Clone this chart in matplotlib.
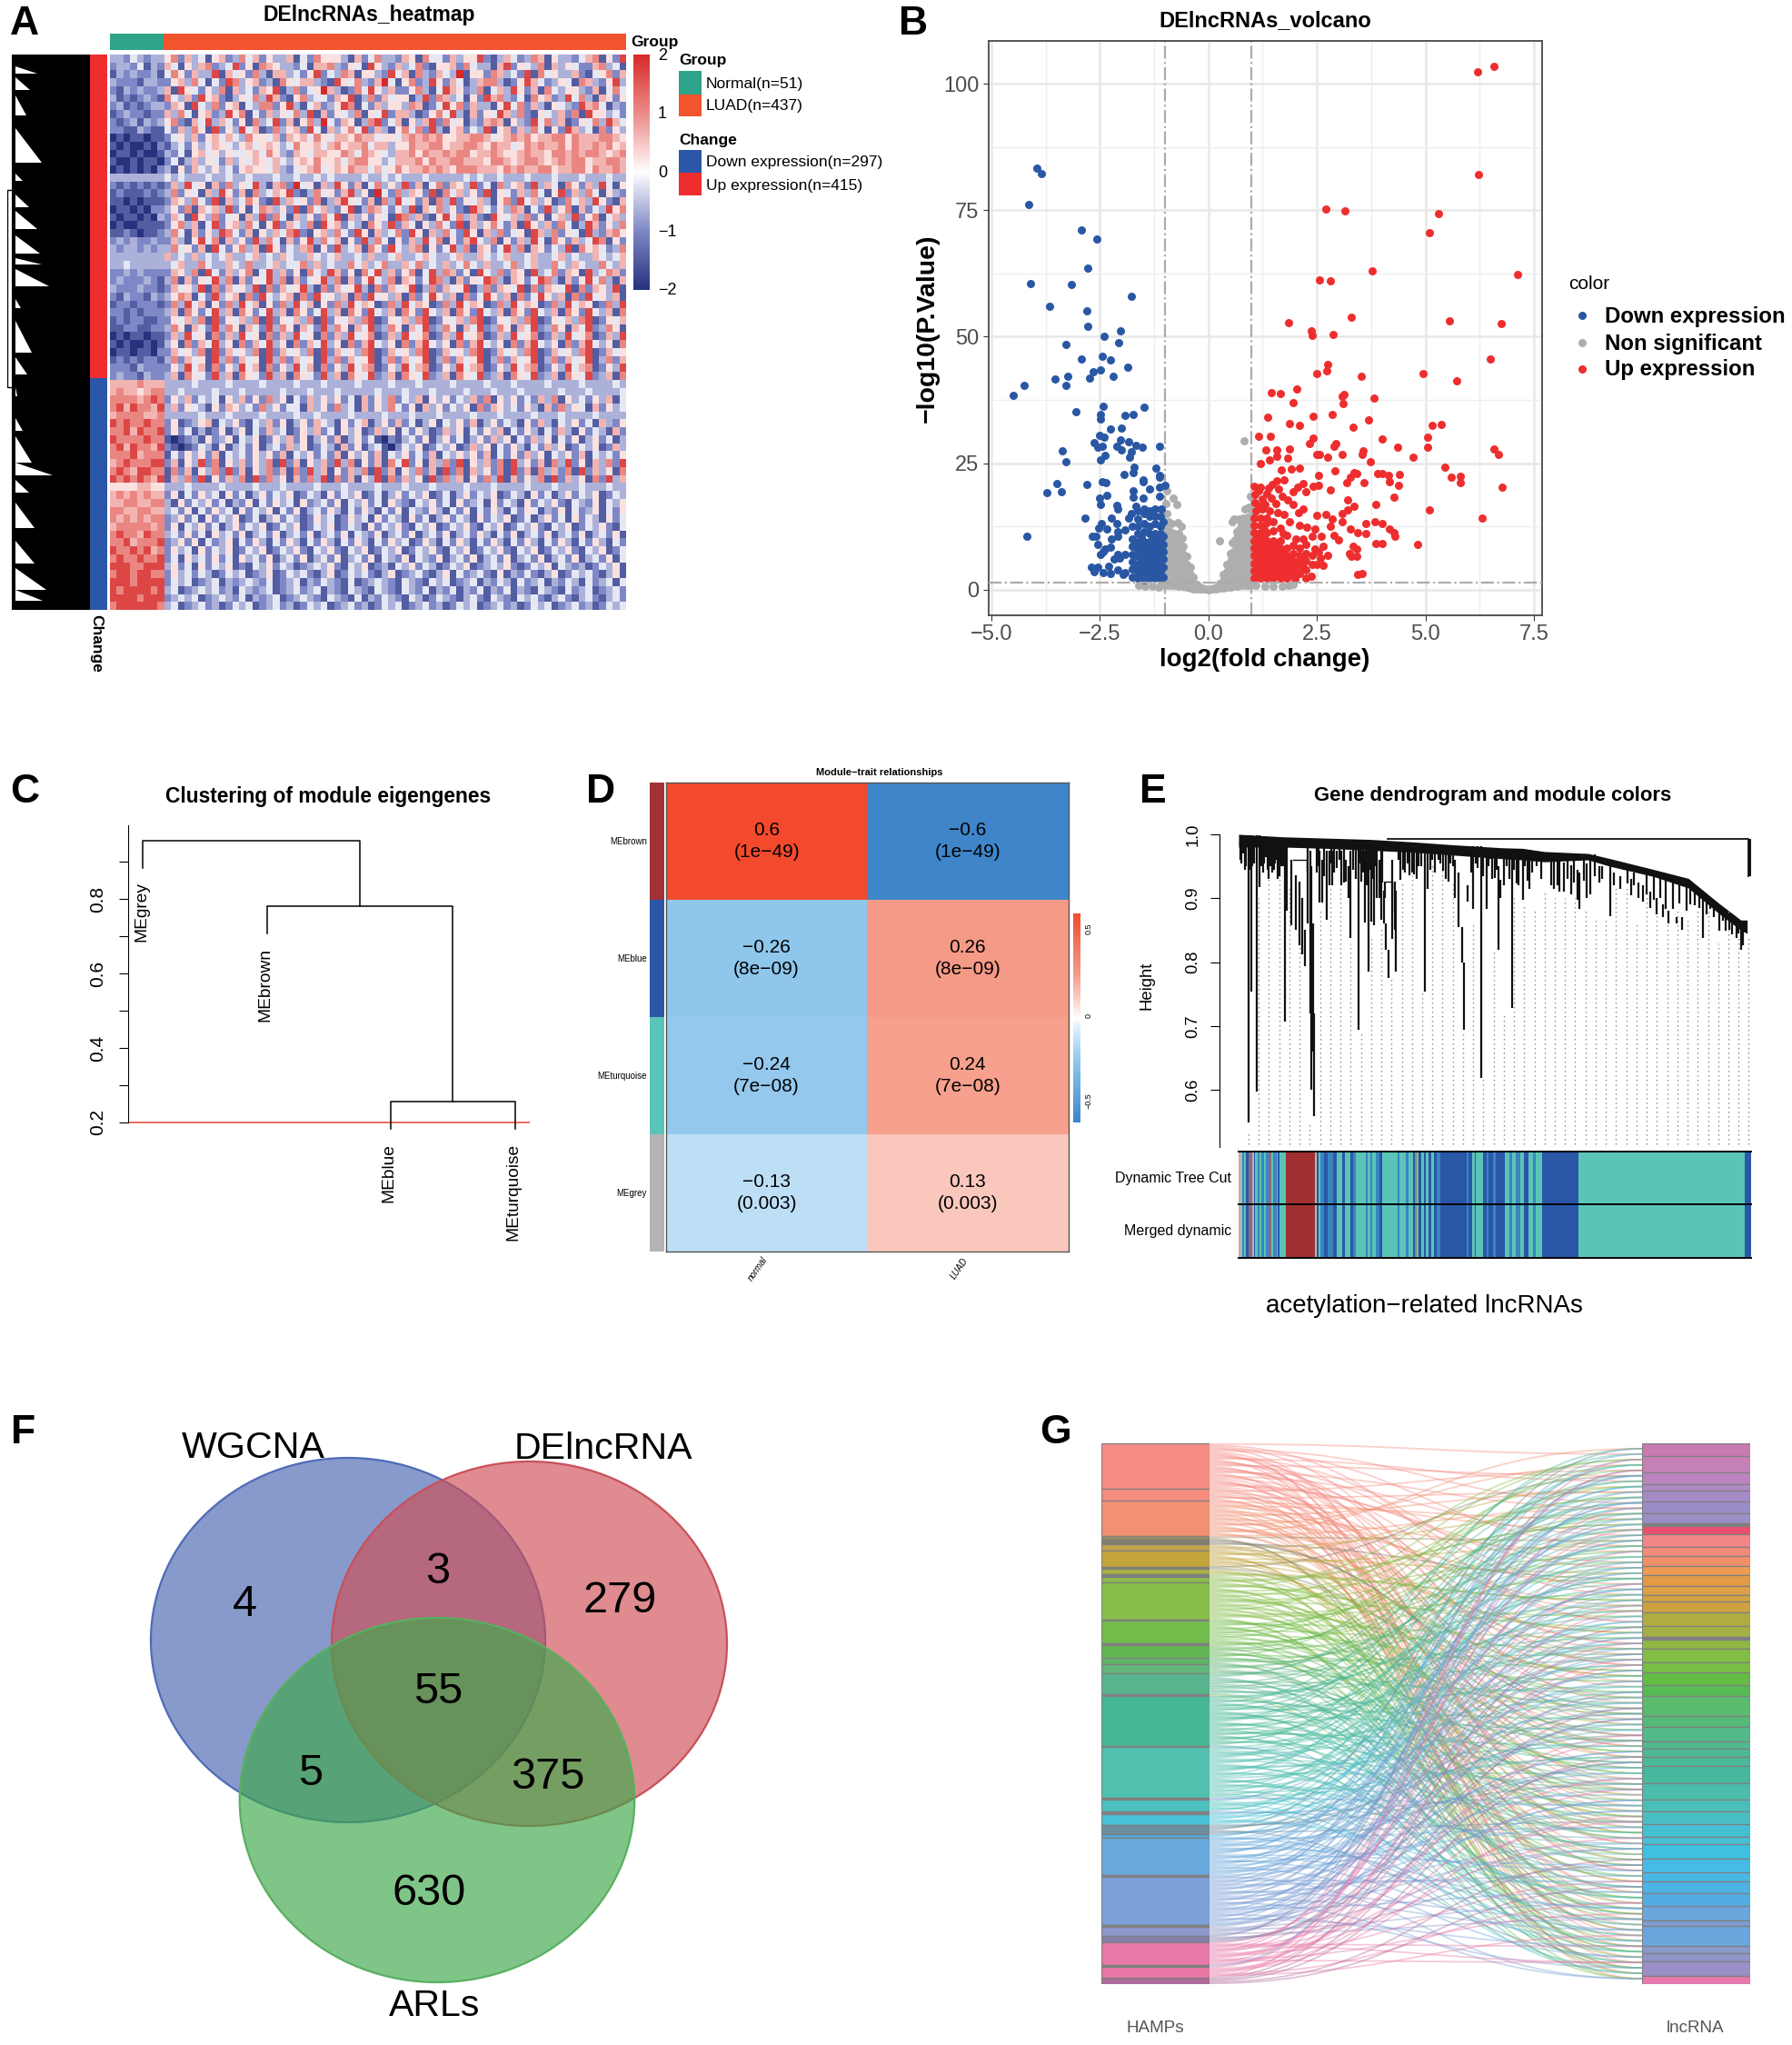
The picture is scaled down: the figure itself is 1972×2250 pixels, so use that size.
import numpy as np
import matplotlib
matplotlib.use("Agg")
import matplotlib.pyplot as plt
from matplotlib.colors import LinearSegmentedColormap
from matplotlib.patches import Ellipse, PathPatch
from matplotlib.path import Path

plt.rcParams['font.family'] = ['Liberation Sans', 'DejaVu Sans']

W, H = 1972, 2250

# ---- A: heatmap, estimate by eye, one digit = one entry of heat_levels
# the speckle is too fine to read cell by cell, so this keeps the blocks and the overall mix
heat_levels = [-2.0, -1.5, -1.0, -0.65, -0.2, 0.25, 0.65, 1.05, 1.7, 2.0]
heat_rows = [
    "3324323357263415623746253361427555316247332651744263558213642376153324671528",
    "2332413264153672348251765332416673254185326347215562743316825437163542267341",
    "1323223147526338164527316634258243761553284617326439155276342817453362145726",
    "3222133225637414287356231754663218547326941572385264136773125864235417632583",
    "2132322361854253716342658137245963127485362257314865237146385261743553261474",
    "3121232174362856213547386215734426581372645513827634152867324175623847316525",
    "2312123326518437256143772583146235871426355376124857263315847263154328674132",
    "1232212263741562385714263547381625437154826631257483162548637215436271855342",
    "2123132357216483642517348261573942651378246153682745132676153284736125473864",
    "2211321142637518253846127356284163574826315747283156243815626374152863417253",
    "0101101124536256464375546265647546657664554676767556677645676756677576667765",
    "1010010213425346543564565347556467566746635576677566776576645767667576676756",
    "0110100132415645354456475326546655764765436675766767756676556766577676776567",
    "1001011024136354263546546435657556467755346667576677666577656776567677566776",
    "0101010231526435342565546324567456576646457566767657776665767667756677576676",
    "3333333343433343343343334334334343333433434333433333434334333433343334333433",
    "2121212126384516273548316729451638526147353826147265382417356283641752638415",
    "1211121237254163852617346582137452683519427365281746352815426374158263741532",
    "1101011126537428163475218364527136854261738452617382546315728463512746385216",
    "0110102235271646382514763528174632581376425381647352186425376142835716243857",
    "1011010326418537245163827416352748163525418736215847362185463725146382571463",
    "0100111125736148256374158264371856243175382641537428163574261853627413862537",
    "1121011237416253874261536478215637428516347285163742851637245186372541832675",
    "2323223226315847163528374162583746152837415263847152684371526384175263487152",
    "3233232337452618425736185243671528346175284367152483716524837165243817564237",
    "3333333363436343463346343643364346334363346334643346336434633463346343364346",
    "3343333334633743364373346344736343374634733647343634743633473463374364337436",
    "2232322226537184263571483625174386251748362571483762518437265183472651834762",
    "2322232137162548371625483716245837162584371652487316254873165248731625847316",
    "3222322126453817264538172645831726458317264581372645813726548172654817265381",
    "2132213235761428356172843561728453617284536172485361724853617248536172845361",
    "1221222127384615273846152738461527384651273846512738465127384651273846512738",
    "2212122236175248361752483617524836175284361752843617528436175284361752843617",
    "1212211225463718254637182546371825463781254637812546378125463781254637812546",
    "1122112237516428375164283751642837516482375164823751648237516482375164823751",
    "0101101126384517263845172638451726384571263845712638457126384571263845712638",
    "1010010135172648351726483517264835172684351726843517268435172684351726843517",
    "0110110226453718264537182645371826453781264537812645378126453781264537812645",
    "1212122137264518372645183726451837264581372645813726458137264581372645813726",
    "2221322225384617253846172538461725384671253846712538467125384671253846712538",
    "2322132236175428361754283617542836175482361754823617548236175482361754823617",
    "6666766633334333343333433334333433334333343334333343333433343333433334333343",
    "6766567733433334333433333433343334333334333433343333433343334333334333433334",
    "7777678725362434153625273514263535241625372436153524362715352426371534253614",
    "7868776836254315265342735244163527341625374251635243517265342531627354162534",
    "6777766733333433343333433334334333343333433343334333343334333343334333343333",
    "8787787725123561435214362513526431524613526241351435261352431526314352416325",
    "7786877825241312513514263412536241535126351425312635142536142531426315243162",
    "8777787710123152351435125362513526135241021342513524135263514263514251352413",
    "7868776821012431513425134263512431625134102435124351263514253142635124351263",
    "7778677714253526143425352614352426153526143524261435352614252635143526143425",
    "6787778826153827153625371826153628371526174825163728153627183526173825163728",
    "7876887717261537282615372617283615263718261537261827163527182617362718263517",
    "8787876816372815263718273516273817261538172635182736152738162537182635172836",
    "5555665533343333433334333433334333433334333433343333433343333433343334333433",
    "6767676625142534152413524351243152435124135243512413524351243152413524351243",
    "6677667731524352413251425341523425143524153214352415234152431524352143251435",
    "7766776634251425341524351425134253142531425143253142514253142541325142351425",
    "7676767723524152435124135243125341253415243152413524315243512413524152431524",
    "6777776725143524135243512435124351243152435214351243521435124352143512435214",
    "7877687734252415342513425134251342514325134251342513425314251342513425134251",
    "7786777823525142351425314253142531425314253412531425314253142531425314253142",
    "8778786725341524351243512435214352143512435124352143512435214351243521435124",
    "7877877824153425241534251342513425134251432514325134251342513425134251342514",
    "8887788835241524351214352431234352143512314352431243512343521243514323124351",
    "7887887725342431243412351243421351243421351234213514234215132421351243421351",
    "8887888824341234132343241234132432141234321432143412341324314234132431423414",
    "8788887834123434231432341234234132143214321432413241324132413214321423412342",
    "8888788823434123432413234123432143214132432143124321342143214342134213421342",
    "7888888734123423124341234231243412342312434123423124341234231243412342312434",
]
heat_cols = 76
n_normal = 51
n_luad = 437
n_down = 297
n_up = 415
heat_ticks = [2, 1, 0, -1, -2]

# dendrogram of panel A, white gaps: first row, last row, reach towards the leaves
gap_top = [15, 29, 52, 94, 153, 179, 201, 232, 261, 275, 314, 342, 388, 427, 466, 489, 523, 545, 574, 624, 658, 686]
gap_bot = [24, 46, 78, 139, 162, 196, 224, 255, 269, 297, 325, 382, 410, 438, 483, 523, 540, 562, 607, 653, 686, 700]
gap_len = [.32, .22, .17, .37, .13, .21, .32, .35, .37, .47, .10, .24, .19, .06, .13, .24, .52, .21, .28, .28, .43, .39]

# ---- B: volcano, log2FC and -log10(p)
down_pts = [
    (-3.95,83.3),(-3.85,82.2),(-4.14,76.1),(-2.92,71.1),(-2.57,69.4),(-2.77,63.6),(-4.10,60.5),(-3.16,60.3),
    (-1.78,58.0),(-3.65,56.0),(-2.79,55.2),(-2.78,52.0),(-2.03,51.2),(-2.40,50.1),(-2.07,48.9),(-3.29,48.4),
    (-2.45,46.1),(-2.92,45.5),(-2.25,45.4),(-1.86,43.9),(-2.49,43.5),(-2.66,43.0),(-3.24,42.2),(-2.19,42.2),
    (-2.74,41.9),(-3.53,41.6),(-3.29,40.4),(-4.24,40.3),(-4.49,38.4),(-2.42,36.3),(-1.48,36.1),(-3.04,35.2),
    (-2.49,34.6),(-1.92,34.4),(-1.74,34.6),(-2.48,33.7),(-2.0,31.9),(-2.25,31.8),(-2.50,30.4),(-2.41,30.1),
    (-2.64,29.1),(-2.55,28.1),(-2.44,28.3),(-2.11,28.3),(-2.01,27.6),(-2.03,29.6),(-1.84,29.2),(-1.66,28.5),
    (-1.52,28.1),(-1.13,28.3),(-3.37,27.4),(-3.29,25.3),(-2.48,25.6),(-2.39,26.5),(-1.81,26.1),(-1.78,27.3),
    (-1.95,22.7),(-1.74,23.1),(-1.70,24.2),(-1.21,24.1),(-1.12,22.6),(-1.12,22.2),(-1.5,21.6),(-1.5,21.3),
    (-2.44,21.3),(-2.36,21.2),(-2.79,20.8),(-3.49,21.0),(-3.39,19.3),(-3.72,19.2),(-1.74,19.6),(-1.36,19.9),
    (-1.13,20.2),(-1.0,20.6),(-2.50,18.0),(-2.34,18.7),(-2.48,16.8),(-1.74,18.2),(-1.5,18.0),(-1.13,18.4),
    (-2.11,16.6),(-2.08,15.9),(-2.85,14.1),(-2.46,13.1),(-2.23,14.1),(-2.10,13.1),(-2.53,12.1),(-2.33,12.0),
    (-1.91,11.8),(-2.67,10.6),(-2.60,10.6),(-2.08,11.4),(-2.23,10.0),(-2.08,10.5),(-2.55,8.9),(-2.25,8.4),
    (-2.39,8.0),(-2.48,6.9),(-2.43,7.5),(-2.08,6.9),(-2.18,6.0),(-1.91,6.9),(-2.04,6.3),(-2.69,4.5),(-2.55,4.4),
    (-2.64,3.6),(-2.30,4.6),(-2.43,3.3),(-2.25,3.2),(-2.08,3.8),(-1.93,3.4),(-1.97,3.0),(-1.84,14.1),(-1.77,15.0),
    (-1.66,16.5),(-4.19,10.5),
    (-1.75,2.5),(-1.75,4.0),(-1.75,5.5),(-1.75,7.0),(-1.75,8.5),(-1.75,10.0),(-1.75,12.5),
    (-1.62,2.2),(-1.62,3.5),(-1.62,5.0),(-1.62,6.5),(-1.62,8.0),(-1.62,9.5),(-1.62,11.0),(-1.62,12.5),(-1.62,14.0),(-1.62,15.5),
    (-1.48,2.0),(-1.48,3.5),(-1.48,5.0),(-1.48,6.5),(-1.48,8.0),(-1.48,9.5),(-1.48,11.5),(-1.48,13.0),(-1.48,15.0),(-1.48,16.0),
    (-1.35,2.2),(-1.35,3.5),(-1.35,5.0),(-1.35,6.5),(-1.35,8.0),(-1.35,9.5),(-1.35,11.0),(-1.35,12.5),(-1.35,14.5),(-1.35,15.5),
    (-1.22,2.2),(-1.22,3.5),(-1.22,5.0),(-1.22,6.5),(-1.22,8.0),(-1.22,9.5),(-1.22,11.0),(-1.22,13.0),(-1.22,14.5),(-1.22,16.0),
    (-1.10,2.2),(-1.10,3.5),(-1.10,5.0),(-1.10,6.5),(-1.10,8.0),(-1.10,9.5),(-1.10,11.0),(-1.10,12.5),(-1.10,14.5),(-1.08,16.0),
    (-1.04,2.5),(-1.04,4.5),(-1.04,6.0),(-1.04,7.5),(-1.04,9.0),(-1.04,10.5),(-1.04,13.5),
    (-1.55,2.9),(-1.55,4.3),(-1.55,5.8),(-1.55,7.3),(-1.55,8.8),(-1.55,10.3),(-1.42,2.9),(-1.42,4.3),(-1.42,5.8),(-1.42,7.3),(-1.42,8.8),
    (-1.28,2.9),(-1.28,4.3),(-1.28,5.8),(-1.28,7.3),(-1.28,8.8),(-1.28,10.2),(-1.16,2.9),(-1.16,4.3),(-1.16,5.8),(-1.16,7.3),(-1.16,8.8),(-1.16,10.2),
]
up_pts = [
    (6.57,103.4),(6.21,102.4),(6.22,82.1),(2.71,75.2),(3.14,74.8),(5.31,74.3),(5.10,70.6),(3.77,63.1),(7.13,62.3),
    (2.56,61.2),(2.81,61.1),(3.29,53.8),(5.55,53.1),(1.84,52.7),(6.75,52.6),(2.37,51.2),(2.40,50.3),(2.87,50.4),
    (6.50,45.6),(2.74,44.5),(2.73,43.3),(2.49,42.7),(4.94,42.7),(3.53,42.2),(5.72,41.3),(2.03,39.6),(1.45,38.9),
    (1.65,38.8),(3.12,38.6),(3.08,38.2),(3.82,37.9),(3.10,36.8),(1.96,36.9),(2.86,34.7),(2.42,34.2),(1.36,34.0),
    (3.69,33.6),(1.88,32.8),(2.09,32.4),(3.33,32.1),(5.16,32.4),(5.36,32.6),(5.06,30.2),(1.15,30.3),(1.42,30.3),
    (2.42,29.9),(4.0,29.8),(2.32,28.8),(2.94,28.8),(2.89,28.4),(5.05,28.1),(4.36,28.1),(6.57,27.8),(6.68,26.7),
    (1.33,27.6),(1.58,27.7),(1.86,27.8),(2.49,26.8),(2.57,26.8),(3.08,26.8),(3.57,27.4),(3.54,26.7),(2.75,26.2),
    (4.72,26.1),(3.73,25.2),(1.21,24.9),(1.41,25.6),(1.58,26.4),(1.82,26.0),(2.09,24.0),(1.91,23.9),(1.69,23.7),
    (5.44,24.2),(2.92,23.5),(3.35,23.1),(3.41,22.9),(3.91,22.9),(4.0,22.9),(4.41,22.7),(4.16,22.6),(2.53,22.5),
    (3.28,22.2),(5.6,22.2),(5.8,22.4),(5.81,21.1),(4.18,21.3),(3.19,21.1),(3.58,21.1),(4.39,20.6),(6.76,20.3),
    (4.27,18.2),(3.85,16.9),(5.1,15.7),(6.3,14.2),(4.0,13.0),(3.83,13.4),(4.18,12.0),(4.27,11.2),(4.29,10.6),
    (4.82,8.9),(4.0,9.1),(3.45,3.0),(3.54,3.2),
    (1.05,20.5),(1.2,20.2),(1.38,20.0),(1.48,20.8),(1.58,21.5),(1.74,21.7),(1.62,19.8),(2.18,21.0),(2.42,20.5),
    (2.53,20.6),(2.05,20.2),(2.25,19.4),(2.82,19.7),(1.95,19.3),(1.08,18.8),(1.25,17.9),(1.45,18.0),(1.7,18.4),
    (1.82,17.7),(1.95,16.8),(2.18,15.9),(2.08,15.2),(3.2,17.8),(3.08,15.1),(3.2,15.7),(3.35,16.4),(3.08,13.5),
    (3.62,13.0),(2.7,14.9),(2.85,13.9),(2.5,14.7),(1.3,16.8),(1.25,15.9),(1.4,15.5),(1.6,15.2),(1.75,14.8),
    (1.88,13.5),(2.09,12.7),(2.27,12.4),(2.45,11.9),(2.82,12.6),(3.28,11.9),(3.45,11.3),(3.62,11.0),(3.85,9.1),
    (2.18,10.0),(2.4,10.5),(2.6,10.5),(2.9,10.8),(3.0,9.9),(3.34,8.5),(3.42,8.1),(3.25,7.1),(3.3,6.5),(3.42,6.5),
    (2.45,8.0),(2.65,8.5),(2.74,6.7),(2.58,6.3),(2.5,5.0),(2.65,4.8),(2.2,4.0),(2.38,2.6),(2.25,2.3),(2.0,2.1),(1.8,2.3),
    (1.05,2.2),(1.05,3.7),(1.05,5.2),(1.05,6.7),(1.05,8.2),(1.05,9.7),(1.05,11.2),(1.05,12.7),(1.05,14.2),
    (1.2,2.2),(1.2,3.7),(1.2,5.2),(1.2,6.7),(1.2,8.2),(1.2,9.7),(1.2,11.2),(1.2,12.7),(1.2,14.2),
    (1.35,2.2),(1.35,3.7),(1.35,5.2),(1.35,6.7),(1.35,8.2),(1.35,9.7),(1.35,11.2),(1.35,13.2),(1.35,14.2),
    (1.5,2.2),(1.5,3.7),(1.5,5.2),(1.5,6.7),(1.5,8.2),(1.5,9.7),(1.5,11.7),(1.5,13.5),
    (1.65,2.2),(1.65,3.7),(1.65,5.2),(1.65,6.7),(1.65,8.2),(1.65,9.7),(1.65,12.2),
    (1.8,3.7),(1.8,5.2),(1.8,6.7),(1.8,8.2),(1.8,10.7),(1.95,2.7),(1.95,4.2),(1.95,5.7),(1.95,7.2),(1.95,8.7),
    (2.1,3.2),(2.1,5.2),(2.1,6.7),(2.1,8.2),(2.25,3.9),(2.25,5.7),(2.25,7.2),(2.25,8.9),(2.4,4.9),(2.4,6.7),(2.55,7.4),
    (1.12,3.0),(1.12,4.5),(1.12,6.0),(1.12,7.5),(1.12,9.0),(1.12,10.5),(1.28,3.0),(1.28,4.5),(1.28,6.0),(1.28,7.5),(1.28,9.0),(1.28,10.5),(1.28,12.0),
    (1.42,3.0),(1.42,4.5),(1.42,6.0),(1.42,7.5),(1.42,9.0),(1.58,3.0),(1.58,4.5),(1.58,6.0),(1.58,7.5),(1.58,9.0),(1.72,3.0),(1.72,4.5),(1.72,6.0),(1.72,7.5),
    (1.72,11.0),(1.88,3.0),(1.88,4.5),(1.88,6.0),(2.02,3.9),(2.02,5.5),(2.02,10.0),(2.18,4.5),(2.18,6.2),
    (1.1,15.6),(1.08,17.1),(1.18,16.5),(1.55,17.0),(1.15,19.6),(1.35,19.0),
]
ns_pts = [
    (-1.6,0.9),(-1.45,0.6),(-1.3,0.6),(-1.15,0.5),(-0.95,19.5),(-0.82,18.0),(-0.72,16.8),(-0.98,17.0),(-0.96,15.0),(-0.92,13.5),
    (-0.85,13.0),(-0.7,13.2),(-0.62,12.5),(-0.97,12.0),(-0.88,11.5),(-0.78,11.0),(-0.68,11.0),(-0.6,10.2),
    (-0.97,10.0),(-0.88,9.5),(-0.78,9.5),(-0.68,9.0),(-0.58,8.5),(-0.97,8.0),(-0.88,7.8),(-0.78,7.8),(-0.68,7.5),(-0.58,7.0),(-0.5,6.5),
    (-0.97,6.3),(-0.88,6.0),(-0.78,6.0),(-0.68,5.8),(-0.58,5.5),(-0.5,5.0),(-0.42,4.5),
    (-0.97,4.5),(-0.88,4.2),(-0.78,4.2),(-0.68,4.0),(-0.58,3.8),(-0.5,3.5),(-0.42,3.0),(-0.34,2.5),
    (-0.97,2.7),(-0.88,2.5),(-0.78,2.5),(-0.68,2.4),(-0.58,2.2),(-0.5,2.0),(-0.42,1.6),(-0.34,1.2),(-0.26,1.0),
    (-1.1,0.9),(-0.97,0.9),(-0.88,0.8),(-0.78,0.8),(-0.68,0.7),(-0.58,0.6),(-0.5,0.4),(-0.42,0.3),(-0.34,0.2),(-0.26,0.1),(-0.18,0.2),(-0.1,0.1),(0.0,0.0),
    (0.1,0.1),(0.18,0.2),(0.26,0.3),(0.34,0.3),(0.42,0.5),(0.5,0.5),(0.58,0.6),(0.68,0.7),(0.78,0.8),(0.88,0.8),(0.97,0.9),(1.1,0.8),(1.3,0.7),(1.5,0.7),(1.7,0.7),(1.85,0.8),(1.95,1.0),
    (0.26,1.2),(0.34,1.8),(0.42,1.8),(0.5,2.0),(0.58,2.2),(0.68,2.4),(0.78,2.5),(0.88,2.6),(0.97,2.7),
    (0.34,3.0),(0.42,3.5),(0.5,3.8),(0.58,4.0),(0.68,4.2),(0.78,4.4),(0.88,4.5),(0.97,4.5),
    (0.42,5.0),(0.5,5.5),(0.58,5.7),(0.68,6.0),(0.78,6.2),(0.88,6.3),(0.97,6.5),(0.5,7.2),(0.58,7.5),(0.68,8.0),(0.78,8.2),(0.88,8.3),(0.97,8.5),
    (0.25,9.7),(0.55,9.2),(0.62,9.8),(0.7,10.0),(0.78,10.2),(0.88,10.3),(0.97,10.5),(0.65,11.5),(0.72,12.0),(0.8,12.2),(0.88,12.3),(0.97,12.5),
    (0.6,14.0),(0.55,13.4),(0.7,14.0),(0.8,14.2),(0.9,14.4),(0.97,14.5),(0.85,16.0),(0.92,16.3),(0.98,16.0),(0.83,29.5),(0.98,18.5),
    (-0.93,1.6),(-0.83,1.6),(-0.73,1.5),(-0.63,1.4),(-0.54,1.2),(-0.46,1.0),(-0.38,0.8),(-0.3,0.6),(-0.22,0.6),(-0.14,0.3),(-0.05,0.1),
    (-0.93,3.5),(-0.83,3.4),(-0.73,3.2),(-0.63,3.0),(-0.54,2.8),(-0.46,2.5),(-0.93,5.3),(-0.83,5.1),(-0.73,4.9),(-0.63,4.7),(-0.54,4.3),(-0.46,4.0),
    (-0.93,7.1),(-0.83,6.9),(-0.73,6.6),(-0.63,6.3),(-0.93,8.8),(-0.83,8.6),(-0.73,8.3),(-0.63,7.8),(-0.93,10.7),(-0.83,10.2),(-0.73,10.0),
    (0.05,0.1),(0.14,0.3),(0.22,0.6),(0.3,0.8),(0.38,1.0),(0.46,1.2),(0.54,1.4),(0.63,1.5),(0.73,1.6),(0.83,1.7),(0.93,1.8),
    (0.38,2.4),(0.46,2.8),(0.54,3.0),(0.63,3.2),(0.73,3.4),(0.83,3.5),(0.93,3.6),(0.46,4.4),(0.54,4.8),(0.63,5.0),(0.73,5.2),(0.83,5.4),(0.93,5.5),
    (0.54,6.5),(0.63,6.8),(0.73,7.0),(0.83,7.3),(0.93,7.4),(0.63,8.8),(0.73,9.2),(0.83,9.3),(0.93,9.4),(0.68,10.8),(0.83,11.2),(0.93,11.4),(0.75,13.0),(0.85,13.2),(0.93,13.4),
]
x_ticks_b = [-5.0, -2.5, 0.0, 2.5, 5.0, 7.5]
y_ticks_b = [0, 25, 50, 75, 100]
fc_cut = 1
p_cut = 1.3

# ---- C: module eigengene tree
me_leaves = ["MEgrey", "MEbrown", "MEblue", "MEturquoise"]
me_merge_brown = 0.7815
me_merge_blue = 0.256
me_merge_top = 0.956
me_leaf_h = [0.883, 0.709, 0.184, 0.184]
me_cut = 0.2

# ---- D: module-trait table
me_rows = ["MEbrown", "MEblue", "MEturquoise", "MEgrey"]
me_row_colors = ["#A03238", "#2A57A8", "#5BC4B8", "#B4B4B6"]
traits = ["normal", "LUAD"]
cors = [[0.6, -0.6], [-0.26, 0.26], [-0.24, 0.24], [-0.13, 0.13]]
pvals = [["1e−49", "1e−49"], ["8e−09", "8e−09"], ["7e−08", "7e−08"], ["0.003", "0.003"]]

# ---- E: gene tree. leaf position, branch top, branch bottom
ribbon_x = [0, 147, 291, 435, 578, 694, 866, 938, 1010, 1154, 1226, 1370, 1485, 1586, 1658, 1679]
ribbon_top = [1.0, .996, .994, .992, .988, .984, .979, .978, .973, .970, .962, .945, .931, .892, .866, .866]
ribbon_low = [.98, .98, .978, .975, .972, .968, .962, .96, .957, .96, .95, .934, .916, .876, .85, .845]
drop_x = [33, 43, 60, 68, 152, 227, 237, 241, 245, 249, 160, 175, 190, 200, 210, 218,
          268, 275, 292, 300, 310, 325, 340, 355, 363, 370, 395, 405, 418, 428, 438, 448, 457, 470,
          465, 480, 487, 495, 482, 508, 516, 520, 535, 550, 565, 580, 595, 615, 625, 640, 660, 675, 693,
          700, 715, 725, 737, 745, 755, 775, 790, 800, 818, 830, 845, 857, 865, 902, 917, 938, 953,
          1032, 1053, 1075, 1097, 1118, 1125, 1140, 1161, 1176, 1226, 1284, 1305, 1348, 1370, 1391, 1410, 1435,
          1456, 1478, 1507, 1533, 1557, 1586, 1607, 1629, 1643, 1658, 1665, 1688, 10, 20, 45, 75, 85, 95, 105, 112, 120, 130, 140,
          5, 15, 25, 38, 52, 80, 90, 100, 116, 125, 135, 146, 258, 264, 283, 305, 316, 332, 347, 378, 386, 401, 412, 424, 433, 443, 453, 475,
          528, 542, 557, 572, 587, 602, 632, 648, 667, 684, 708, 768, 782, 808, 824, 838, 852, 875, 885, 895, 910, 925, 945, 960, 970,
          985, 1000, 1040, 1060, 1085, 1108, 1150, 1190, 1200, 1240, 1260, 1295, 1320, 1335, 1360, 1380, 1400, 1420, 1445, 1465, 1490, 1520, 1545, 1570, 1600, 1620, 1650]
drop_top = [.998, .998, .998, .998, .993, .985, .974, .95, .86, .72, .988, .96, .936, .926, .90, .85,
            .974, .96, .974, .974, .974, .974, .974, .96, .95, .974, .988, .974, .974, .974, .974, .974, .974, .988,
            .96, .912, .86, .82, .926, .96, .926, .912, .983, .983, .983, .983, .983, .983, .983, .979, .979, .979, .979,
            .979, .96, .94, .855, .80, .92, .981, .981, .981, .979, .979, .976, .95, .929, .976, .976, .973, .973,
            .962, .962, .956, .951, .945, .940, .968, .968, .968, .951, .945, .940, .940, .934, .931, .934, .928,
            .928, .923, .911, .906, .894, .889, .877, .872, .866, .860, .860, .993, .995, .995, .995, .99, .99, .99, .99, .99, .99, .99, .99,
            .99, .99, .99, .99, .99, .99, .99, .99, .99, .99, .99, .99, .985, .985, .985, .985, .985, .985, .985, .985, .985, .985, .985, .985, .985, .985, .985, .985,
            .98, .98, .98, .98, .98, .98, .98, .98, .98, .98, .975, .975, .975, .975, .975, .975, .975, .97, .97, .97, .97, .97, .97, .97, .97,
            .965, .965, .965, .965, .965, .965, .955, .95, .95, .94, .935, .93, .925, .92, .91, .90, .89, .88, .87, .87, .915, .905, .90, .895, .885, .875, .865]
drop_bot = [.55, .754, .598, .917, .707, .86, .72, .60, .66, .56, .88, .858, .85, .826, .812, .794,
            .893, .893, .867, .921, .921, .948, .921, .926, .90, .838, .694, .926, .862, .786, .864, .858, .90, .867,
            .90, .86, .82, .775, .90, .836, .85, .786, .929, .94, .936, .938, .95, .754, .914, .96, .96, .943, .926,
            .955, .90, .855, .80, .694, .895, .883, .948, .619, .883, .962, .931, .819, .90, .729, .923, .897, .928,
            .920, .920, .911, .906, .897, .883, .928, .906, .934, .872, .923, .920, .906, .897, .900, .883, .883,
            .892, .880, .889, .838, .883, .849, .849, .843, .838, .820, .827, .935, .955, .945, .95, .95, .955, .945, .95, .94, .955, .93, .95,
            .96, .97, .95, .945, .955, .94, .965, .93, .945, .96, .935, .95, .94, .95, .935, .955, .94, .96, .925, .945, .93, .955, .94, .92, .945, .93, .95, .925,
            .96, .945, .955, .94, .93, .95, .945, .94, .955, .93, .95, .94, .955, .935, .95, .93, .945, .92, .95, .93, .945, .92, .95, .915, .94,
            .95, .93, .915, .91, .93, .925, .90, .925, .93, .92, .915, .905, .90, .895, .885, .875, .87, .86, .86, .85, .89, .885, .875, .87, .865, .85, .845]
guide_tops = [.536, .90, .96, .96, .917, .83, .55, .883, .92, .92, .83, .69, .84, .855, .774, .926, .936, .754,
              .955, .95, .926, .693, .862, .617, .819, .72, .90, .89, .88, .91, .90, .90, .90, .88, .87, .87, .92,
              .92, .86, .92, .90, .88, .88, .87, .88, .88, .83, .88, .84, .84, .82]
h_ticks = [0.6, 0.7, 0.8, 0.9, 1.0]
G_, T_, B_, M_, R_, V_, O_ = "#B5B5B5", "#5BC4B8", "#2A57A8", "#3A85BF", "#A03030", "#8C6A80", "#8C8C70"
module_widths = [13, 6, 6, 8, 12, 6, 4, 8, 7, 5, 10, 5, 9, 10, 6, 10, 5, 5, 20, 97, 5, 6, 7, 10, 13, 17, 13, 18, 9, 17, 10, 10,
                 33, 5, 8, 7, 10, 13, 8, 52, 7, 20, 10, 13, 6, 6, 8, 7, 10, 5, 10, 8, 10, 10, 12, 3, 82, 5, 13, 9, 4, 22, 12, 8, 14, 8, 20,
                 12, 14, 10, 12, 14, 12, 14, 17, 7, 22, 118, 547, 22]
module_colors = [G_, M_, T_, B_, V_, G_, B_, T_, M_, T_, M_, T_, M_, V_, T_, M_, T_, B_, T_, R_, G_, B_, T_, M_, B_, M_, B_, T_, B_, T_, B_, M_,
                 T_, M_, T_, M_, T_, M_, B_, T_, M_, T_, M_, T_, B_, O_, T_, B_, T_, B_, T_, B_, T_, B_, M_, B_, B_, M_, B_, T_, B_, T_, B_, M_, B_, M_, B_,
                 B_, T_, M_, T_, M_, T_, B_, T_, M_, T_, B_, T_, B_]

# ---- F: Venn counts
venn_sets = ["WGCNA", "DElncRNA", "ARLs"]
venn_counts = [4, 3, 279, 55, 5, 375, 630]

# ---- G: alluvial strata sizes and colours, top to bottom
hamp_sizes = [114, 30, 88, 9, 11, 17, 39, 6, 14, 6, 14, 92, 4, 56, 4, 32, 16, 24, 52, 4, 124, 4, 126, 5, 30, 5, 28, 22, 10, 94, 4, 120, 4, 23, 17, 56, 4, 28, 16]
hamp_colors = ["#F68B84", "#F58C7E", "#F29171", "#9C8A5F", "#7F7F6F", "#BFA24C", "#C4A53C", "#84806A", "#A7B043", "#808080", "#8DBB4C",
               "#86BE49", "#808080", "#72BD4B", "#808080", "#62B553", "#5EB368", "#62B57A", "#58B58E", "#808080", "#45B795", "#808080", "#52C0AF",
               "#808080", "#4DC2C0", "#808080", "#47C1D6", "#6C8E9E", "#52A8DE", "#6AA9DC", "#808080", "#7B9FD6", "#808080", "#8F98CC", "#857FA8",
               "#E878A8", "#808080", "#EA76A5", "#B06A9A"]
rna_sizes = [31, 40, 27, 15, 28, 27, 24, 8, 18, 32, 22, 24, 20, 27, 23, 15, 25, 34, 25, 8, 22, 32, 24, 30, 26, 49, 27, 35, 17, 20, 22, 40, 40, 28, 32, 30, 17, 35, 34, 21, 29, 31, 34, 12, 50, 17, 20, 34, 20]
rna_colors = ["#C87BB0", "#C580B5", "#BB84BE", "#B08AC4", "#A48BC6", "#9A8DC6", "#9B8FC4", "#7F7F7F", "#E8506E", "#F48688", "#F48A7A", "#F2906A",
              "#EE9A52", "#E29A45", "#DDA045", "#D6A23F", "#CDA23F", "#B0AC3F", "#A4B044", "#808080", "#90B845", "#82BD45", "#78BE45", "#64BC45",
              "#58BA55", "#5ABB6E", "#55BA78", "#52B988", "#50B98E", "#4CB994", "#4AB899", "#47B89E", "#4CBDAC", "#4ABFB8", "#48BEC3", "#44C0D2", "#46C0D6",
              "#3EC0E3", "#45BCE6", "#48B8E6", "#4DB3E6", "#52ADE3", "#6AA6DC", "#7C9DD2", "#6AA6DC", "#8B9ACB", "#9095C8", "#9A90C6", "#E87AAE"]
# where each flow lands on the lncRNA side, % of the height, in order of its start on the HAMP side
flow_targets_a = [
    2, 48, 11, 71, 88, 27, 96, 41, 6, 58, 33, 91, 17, 64, 79, 23, 52, 99, 37, 83, 9, 68, 45, 14, 74, 30, 93, 56, 20, 86,
    4, 62, 39, 77, 12, 97, 50, 25, 81, 35, 66, 8, 90, 43, 19, 72, 54, 98, 29, 61, 85, 15, 47, 3, 76, 34, 94, 57, 22, 69,
    10, 87, 42, 65, 28, 95, 53, 18, 80, 38, 5, 73, 49, 92, 24, 60, 13, 84, 44, 70, 31, 97, 55, 21, 78, 36, 7, 89, 46, 63,
    16, 75, 40, 99, 26, 59, 82, 11, 51, 93, 32, 67, 1, 86, 43, 72, 19, 56, 96, 28, 64, 6, 79, 37, 91, 48, 14, 70, 25, 84,
    52, 9, 61, 34, 98, 41, 76, 17, 88, 58, 23, 67, 4, 94, 45, 30, 73, 12, 55, 82, 20, 63, 39, 95, 50, 8, 71, 27, 86, 35,
    60, 15, 78, 44, 92, 2, 53, 24, 68, 33, 99, 47, 11, 80, 57, 18, 74, 38, 90, 6, 62, 29, 83, 42, 97, 13, 66, 51, 22, 75,
    36, 88, 5, 59, 46, 93, 16, 70, 26, 81, 40, 96, 54, 10, 64, 31, 85, 3, 49, 77,
]
flow_targets_b = [
    33, 74, 19, 92, 56, 7, 63, 28, 85, 44, 12, 70, 37, 98, 51, 22, 79, 5, 60, 41, 89, 16, 67, 31, 95, 47, 9, 76, 54, 26,
    83, 38, 1, 65, 18, 90, 49, 72, 13, 58, 35, 97, 24, 81, 43, 6, 69, 52, 29, 87, 15, 61, 40, 94, 21, 77, 10, 55, 32, 84,
    46, 3, 71, 25, 99, 57, 36, 88, 14, 64, 42, 8, 78, 50, 20, 93, 30, 68, 4, 59, 39, 86, 23, 73, 48, 11, 96, 62, 17, 82,
    34, 55, 91, 27, 66, 2, 75, 45, 13, 87, 53, 38, 7, 69, 22, 94, 60, 31, 80, 16, 47, 98, 25, 72, 41, 10, 63, 35, 89, 56,
    19, 77, 4, 50, 84, 29, 67, 43, 12, 92, 58, 24, 74, 37, 97, 8, 65, 46, 21, 83, 33, 54, 1, 70, 40, 90, 15, 61, 27, 79,
    48, 6, 86, 36, 71, 18, 95, 52, 28, 64, 11, 81, 42, 3, 57, 88, 23, 68, 49, 99, 32, 75, 14, 59, 39, 93, 9, 66, 26, 85,
    44, 17, 78, 51, 30, 96, 62, 5, 73, 37, 87, 20, 55, 12, 69, 41, 91, 34, 58, 82,
]
flow_targets = [v for pair in zip(flow_targets_a, flow_targets_b) for v in pair]


def box(x0, y0, x1, y1):
    return fig.add_axes([x0 / W, 1 - y1 / H, (x1 - x0) / W, (y1 - y0) / H])


def txt(x, y, s, **kw):
    kw.setdefault("ha", "center")
    kw.setdefault("va", "center")
    fig.text(x / W, 1 - y / H, s, **kw)


def tag(x, y, s):
    txt(x, y, s, fontsize=32, fontweight="bold", ha="left")


fig = plt.figure(figsize=(W / 100, H / 100), dpi=100, facecolor="white")

# A
heat_cmap = LinearSegmentedColormap.from_list(
    "heat", [(0, "#27327E"), (0.25, "#7F88C6"), (0.5, "#FFFFFF"), (0.75, "#EC8C88"), (1, "#D62A2A")])
mat = np.array([[heat_levels[int(c)] for c in r.ljust(heat_cols, "4")[:heat_cols]] for r in heat_rows])
ax = box(121, 60, 689, 671)
ax.imshow(mat, cmap=heat_cmap, vmin=-2, vmax=2, aspect="auto", interpolation="nearest")
ax.axis("off")

ax = box(121, 37, 689, 55)
ax.barh(0, n_normal, color="#2EA58A", height=1)
ax.barh(0, n_luad, left=n_normal, color="#F2542D", height=1)
ax.set_xlim(0, n_normal + n_luad)
ax.set_ylim(-.5, .5)
ax.axis("off")

ax = box(99, 60, 118, 671)
ax.bar(0, n_up, color="#EE2E2E", width=1)
ax.bar(0, n_down, bottom=n_up, color="#2A57A8", width=1)
ax.set_ylim(n_up + n_down, 0)
ax.set_xlim(-.5, .5)
ax.axis("off")

ax = box(7.5, 60, 99, 671)
ax.fill_betweenx([0, n_up + n_down], 0, 1, color="black", lw=0)
for t, b, g in zip(gap_top, gap_bot, gap_len):
    ax.fill([0.03, 0.03, g], [t, b, b], color="white", lw=0)
ax.plot([0.02, -0.074, -0.074, 0.02], [174, 174, 426, 426], color="black", lw=1)
ax.plot([0, 0], [0, n_up + n_down], color="black", lw=1.5)
ax.set_xlim(-0.08, 1)
ax.set_ylim(n_up + n_down, 0)
ax.axis("off")

ax = box(697, 60, 715, 319)
ax.imshow(np.linspace(2, -2, 256)[:, None], cmap=heat_cmap, aspect="auto", vmin=-2, vmax=2, extent=[0, 1, -2, 2])
ax.axis("off")
for v in heat_ticks:
    txt(724, 61 + (2 - v) * 64.75, str(v).replace("-", "−"), fontsize=13, ha="left")

ax = box(747, 78, 772, 215)
ax.set_ylim(137, 0)
ax.bar(.5, 25.5, width=1, color="#2EA58A", align="edge", bottom=0)
ax.bar(.5, 24, width=1, color="#F2542D", align="edge", bottom=25.5)
ax.bar(.5, 25, width=1, color="#2A57A8", align="edge", bottom=87)
ax.bar(.5, 25, width=1, color="#EE2E2E", align="edge", bottom=112)
ax.set_xlim(.5, 1.5)
ax.axis("off")
txt(406, 17, "DElncRNAs_heatmap", fontsize=16.5, fontweight="bold")
txt(694, 47, "Group", fontsize=12.5, fontweight="bold", ha="left")
txt(747, 67, "Group", fontsize=12.5, fontweight="bold", ha="left")
txt(747, 154, "Change", fontsize=12.5, fontweight="bold", ha="left")
txt(777, 92, f"Normal(n={n_normal})", fontsize=12.5, ha="left")
txt(777, 117, f"LUAD(n={n_luad})", fontsize=12.5, ha="left")
txt(777, 179, f"Down expression(n={n_down})", fontsize=12.5, ha="left")
txt(777, 204, f"Up expression(n={n_up})", fontsize=12.5, ha="left")
txt(106, 708, "Change", fontsize=12.5, fontweight="bold", rotation=-90)
tag(11, 26, "A")

# B
ax = box(1088, 45, 1697, 677)
for pts, col in [(ns_pts, "#AEAEB0"), (down_pts, "#2957A4"), (up_pts, "#EE2E2E")]:
    arr = np.array(pts)
    ax.scatter(arr[:, 0], arr[:, 1], s=42, color=col, lw=0, zorder=3)
ax.set_xlim(-5.06, 7.69)
ax.set_ylim(-5.1, 108.5)
ax.set_xticks(x_ticks_b)
ax.set_xticklabels(["−5.0", "−2.5", "0.0", "2.5", "5.0", "7.5"])
ax.set_yticks(y_ticks_b)
ax.set_xticks([-3.75, -1.25, 1.25, 3.75, 6.25], minor=True)
ax.set_yticks([12.5, 37.5, 62.5, 87.5], minor=True)
ax.grid(True, which="major", color="#E8E8E8", lw=1.8, zorder=0)
ax.grid(True, which="minor", color="#EEEEEE", lw=1.0, zorder=0)
ax.tick_params(axis="both", which="minor", length=0)
ax.tick_params(axis="both", which="major", labelsize=17, labelcolor="#4D4D4D", color="#333333", length=4)
ax.set_axisbelow(True)
for s in ax.spines.values():
    s.set_color("#555555")
    s.set_linewidth(1.4)
ax.axvline(-fc_cut, color="#ABABAB", lw=1.6, ls="-.", zorder=2)
ax.axvline(fc_cut, color="#ABABAB", lw=1.6, ls="-.", zorder=2)
ax.axhline(p_cut, color="#ABABAB", lw=1.6, ls="-.", zorder=4)
txt(1392, 23, "DElncRNAs_volcano", fontsize=17, fontweight="bold")
txt(1392, 726, "log2(fold change)", fontsize=20, fontweight="bold")
txt(1021, 361, "−log10(P.Value)", fontsize=20.5, fontweight="bold", rotation=90)
txt(1726, 312, "color", fontsize=15, ha="left")
ax_leg = box(1730, 330, 1965, 425)
ax_leg.set_xlim(1730, 1965)
ax_leg.set_ylim(425, 330)
ax_leg.axis("off")
for yy, col, lab in [(347, "#2957A4", "Down expression"), (377, "#AEAEB0", "Non significant"), (406, "#EE2E2E", "Up expression")]:
    ax_leg.scatter([1741], [yy], s=42, color=col, lw=0)
    ax_leg.text(1766, yy + 1, lab, fontsize=17.3, fontweight="bold", va="center")
tag(989, 26, "B")

# C
ax = box(141, 908, 583, 1245)
ax.set_xlim(0.88, 4.12)
ax.set_ylim(0.2 - 10 * 0.2 / 81.9, 0.9985)
ax.axhline(me_cut, color="#F26A5A", lw=1.4, xmin=0, xmax=1)
blue_mid = 3.5
brown_mid = (2 + blue_mid) / 2
ax.plot([1, 1, brown_mid, brown_mid], [me_leaf_h[0], me_merge_top, me_merge_top, me_merge_brown], color="black", lw=1.1)
ax.plot([2, 2, blue_mid, blue_mid], [me_leaf_h[1], me_merge_brown, me_merge_brown, me_merge_blue], color="black", lw=1.1)
ax.plot([3, 3, 4, 4], [me_leaf_h[2], me_merge_blue, me_merge_blue, me_leaf_h[3]], color="black", lw=1.1)
for s in ["top", "right", "bottom"]:
    ax.spines[s].set_visible(False)
ax.spines["left"].set_bounds(0.2, 0.9985)
ax.set_xticks([])
ax.set_yticks(np.arange(2, 10) / 10)
ax.set_yticklabels(["0.2", "", "0.4", "", "0.6", "", "0.8", ""], rotation=90, va="center", fontsize=15)
ax.tick_params(axis="y", length=7, pad=10)
ax.patch.set_alpha(0)
for xx, y_top, lab in [(156, 970, "MEgrey"), (292, 1043, "MEbrown"), (428, 1258, "MEblue"), (565, 1258, "MEturquoise")]:
    txt(xx, y_top, lab, fontsize=13.8, rotation=90, va="top")
txt(361, 876, "Clustering of module eigengenes", fontsize=16.4, fontweight="bold")
tag(11, 871, "C")

# D
cor_cmap = LinearSegmentedColormap.from_list(
    "cor", [(0, "#3E86C9"), (0.2833, "#8EC6EC"), (0.3917, "#BDDFF6"), (0.5, "#FFFFFF"),
            (0.6083, "#FAC7BD"), (0.7167, "#F59A86"), (1, "#F34A2E")])
ax = box(733, 861, 1175.5, 1377)
ax.pcolormesh(np.arange(3), np.arange(5), np.array(cors), cmap=cor_cmap, vmin=-.6, vmax=.6)
ax.set_ylim(4, 0)
ax.set_xlim(0, 2)
for i, (crow, prow) in enumerate(zip(cors, pvals)):
    for j, (c, p) in enumerate(zip(crow, prow)):
        ax.text(j + .5, i + .41, f"{c:g}".replace("-", "−"), ha="center", va="center", fontsize=15)
        ax.text(j + .5, i + .59, f"({p})", ha="center", va="center", fontsize=15)
ax.set_xticks([])
ax.set_yticks([])
for s in ax.spines.values():
    s.set_color("#555555")
    s.set_linewidth(1)

ax = box(715, 861, 731, 1377)
ax.bar([0] * 4, [1] * 4, bottom=np.arange(4), color=me_row_colors, width=1, align="center")
ax.set_ylim(4, 0)
ax.set_xlim(-.5, .5)
ax.axis("off")
for i, lab in enumerate(me_rows):
    txt(712, 926 + i * 129, lab, fontsize=7, ha="right")
ax = box(1181, 1005, 1189, 1235)
ax.imshow(np.linspace(.6, -.6, 256)[:, None], cmap=cor_cmap, aspect="auto", vmin=-.6, vmax=.6)
ax.axis("off")
for yy, lab in [(1022, "0.5"), (1118, "0"), (1211, "−0.5")]:
    txt(1198, yy, lab, fontsize=6.5, rotation=90)
txt(834, 1396, traits[0], fontsize=7, rotation=55, style="italic")
txt(1056, 1396, traits[1], fontsize=7, rotation=55, style="italic")
txt(968, 850, "Module−trait relationships", fontsize=8, fontweight="bold")
tag(645, 871, "D")

# E
ax = box(1342, 913, 1927, 1262)
ax.set_xlim(-63, 1692)
ax.set_ylim(0.511, 1.007)
for i, g_top in enumerate(guide_tops):
    ax.vlines(33 + 33.7 * i, 0.515, g_top, color="#8A8585", lw=1, linestyles=(0, (1, 2.6)))
ax.fill_between(ribbon_x, ribbon_top, ribbon_low, color="#111111", lw=0)
ax.vlines(drop_x, drop_bot, drop_top, color="#111111", lw=1.6)
ax.plot([155, 155, 225, 225], [.985, .99, .99, .985], color="#111111", lw=1)
ax.plot([180, 225, 225], [.96, .96, .943], color="#111111", lw=1)
ax.plot([485, 508, 508], [.926, .926, .88], color="#111111", lw=1)
ax.plot([492, 1684, 1684], [.993, .993, .935], color="#111111", lw=1.3)
ax.fill_betweenx([.935, .993], 1684, 1692, color="#111111", lw=0)
for s in ["top", "right", "bottom"]:
    ax.spines[s].set_visible(False)
ax.spines["left"].set_bounds(0.511, 1.0)
ax.set_xticks([])
ax.set_yticks(h_ticks)
ax.set_yticklabels([f"{v:.1f}" for v in h_ticks], rotation=90, va="center", fontsize=13.2)
ax.tick_params(axis="y", length=7, pad=8)
txt(1262, 1084, "Height", fontsize=13.3, rotation=90)

for y0, y1 in [(1267, 1325), (1325, 1384)]:
    ax = box(1363, y0, 1927, y1)
    ax.bar(np.cumsum([0] + module_widths[:-1]), [1] * len(module_widths), width=module_widths, align="edge", color=module_colors, lw=0)
    ax.set_xlim(0, sum(module_widths))
    ax.set_ylim(0, 1)
    ax.set_xticks([])
    ax.set_yticks([])
    for s in ["left", "right"]:
        ax.spines[s].set_visible(False)
    for s in ["top", "bottom"]:
        ax.spines[s].set_linewidth(1.4)
txt(1355, 1296, "Dynamic Tree Cut", fontsize=11.5, ha="right")
txt(1355, 1355, "Merged dynamic", fontsize=11.5, ha="right")
txt(1643, 876, "Gene dendrogram and module colors", fontsize=15.9, fontweight="bold")
txt(1567, 1437, "acetylation−related lncRNAs", fontsize=20)
tag(1254, 871, "E")

# F
ax = box(160, 1600, 805, 2185)
ax.set_xlim(160, 805)
ax.set_ylim(2185, 1600)
ax.axis("off")
for cx, cy, w, h_, fc, ec in [(383, 1804.5, 434, 401, "#4A64B0", "#4F6BB8"),
                              (582.5, 1808.5, 435, 401, "#CF4F57", "#C9505A"),
                              (481, 1980.5, 434.5, 401, "#3EA84A", "#58B060")]:
    ax.add_patch(Ellipse((cx, cy), w, h_, facecolor=fc, alpha=.66, edgecolor="none"))
    ax.add_patch(Ellipse((cx, cy), w, h_, facecolor="none", edgecolor=ec, lw=1.6))
for (xx, yy), lab in zip([(278.5, 1593), (664, 1594), (478, 2207)], venn_sets):
    txt(xx, yy, lab, fontsize=29.6)
for (xx, yy), n in zip([(269, 1765), (482, 1729), (682, 1761), (482, 1861), (342, 1951), (603, 1956), (472, 2083)], venn_counts):
    txt(xx, yy, str(n), fontsize=35)
tag(12, 1577, "F")

# G
ax = box(1331, 1588, 1807, 2183)
ax.set_xlim(0, 1)
ax.set_ylim(1, 0)
ax.axis("off")
hamp_edges = np.cumsum(hamp_sizes) / sum(hamp_sizes)
for i, tgt in enumerate(flow_targets):
    y0 = (i + .5) / len(flow_targets)
    y1 = tgt / 100
    col = hamp_colors[min(np.searchsorted(hamp_edges, y0), len(hamp_colors) - 1)]
    if col == "#808080":
        col = "#7B9FD6" if y0 > .5 else "#86BE49"
    path = Path([(0, y0), (.5, y0), (.5, y1), (1, y1)], [Path.MOVETO, Path.CURVE4, Path.CURVE4, Path.CURVE4])
    ax.add_patch(PathPatch(path, facecolor="none", edgecolor=col, lw=1.25, alpha=.42))

for bx, sizes, cols in [((1212, 1331), hamp_sizes, hamp_colors), ((1807, 1926), rna_sizes, rna_colors)]:
    ax = box(bx[0], 1588, bx[1], 2183)
    ax.bar(0, sizes, bottom=np.cumsum([0] + sizes[:-1]), color=cols, width=1, edgecolor="#808080", lw=0.9)
    ax.set_ylim(sum(sizes), 0)
    ax.set_xlim(-.5, .5)
    ax.axis("off")
txt(1271, 2231, "HAMPs", fontsize=13.6, color="#555555")
txt(1866, 2231, "lncRNA", fontsize=13.6, color="#555555")
tag(1144, 1577, "G")

fig.savefig("out.png", dpi=100)
